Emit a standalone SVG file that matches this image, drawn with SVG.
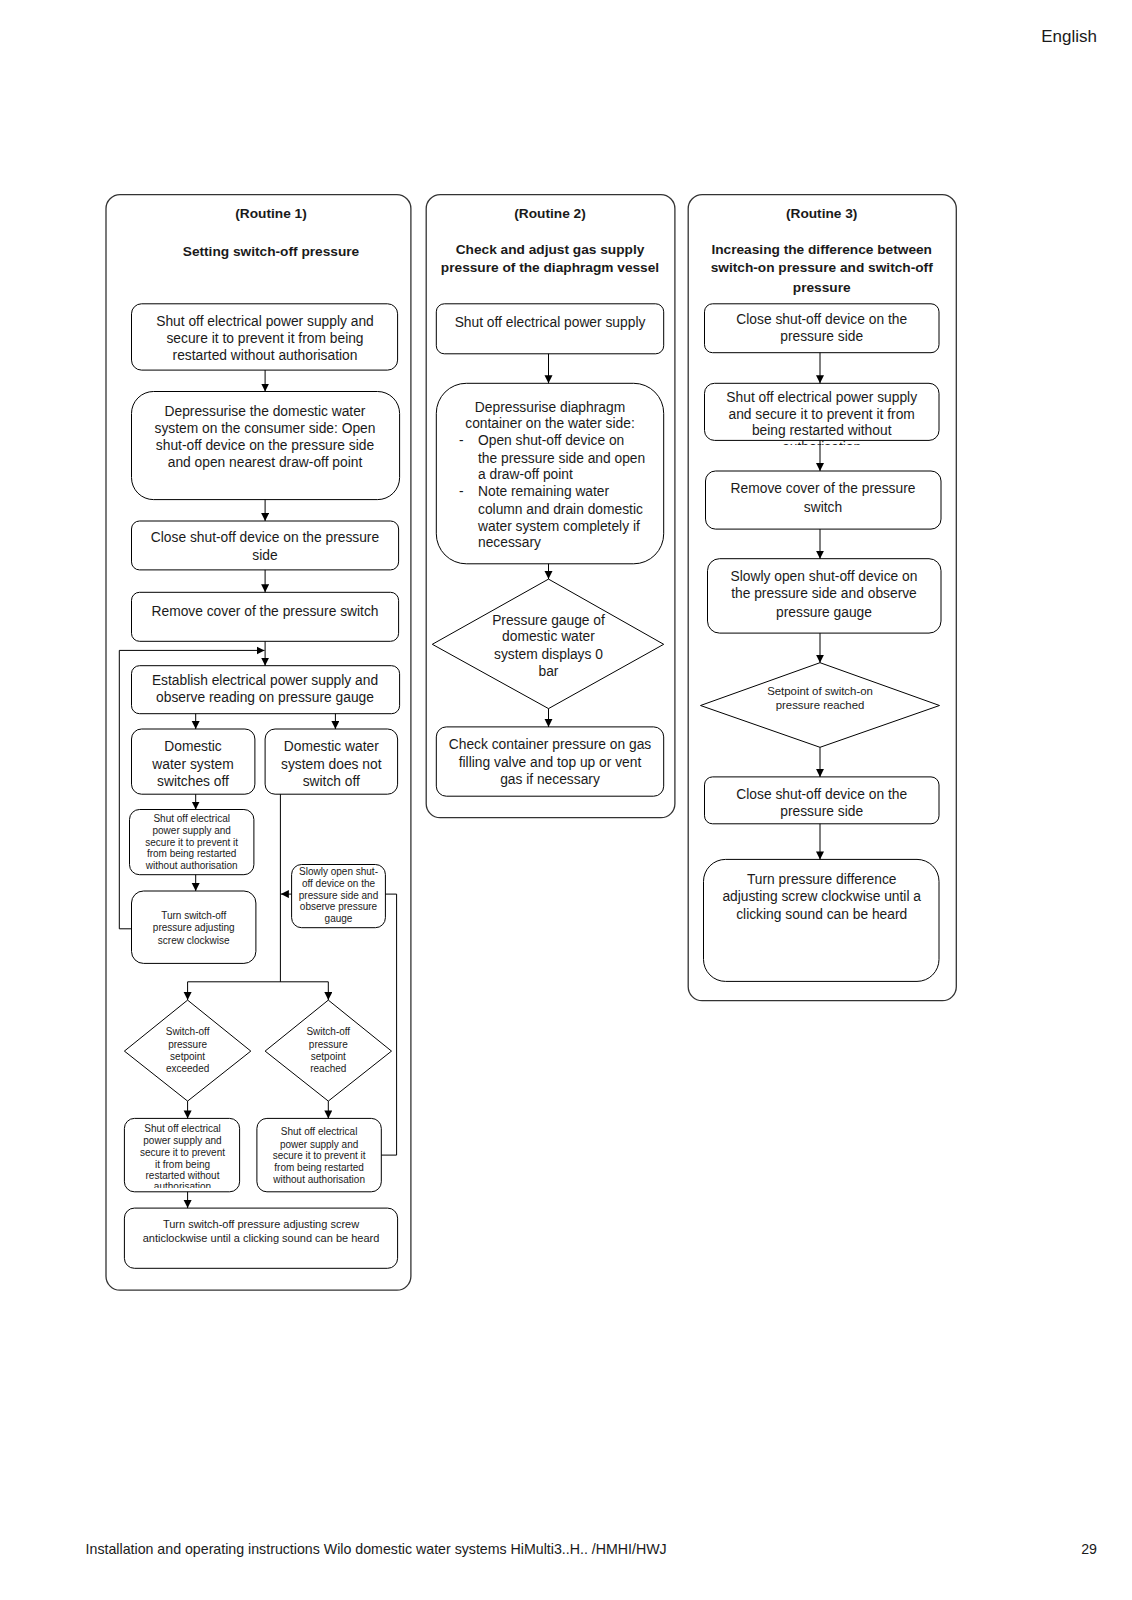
<svg xmlns="http://www.w3.org/2000/svg" width="1132" height="1600" viewBox="0 0 1132 1600">
<style>
text{font-family:"Liberation Sans",Arial,sans-serif;fill:#1a1a1a}
.t{font-size:13.8px;text-anchor:middle}
.tl{font-size:13.8px}
.h{font-size:13.7px;font-weight:bold;text-anchor:middle}
.s{font-size:10px;text-anchor:middle}
.m{font-size:11px;text-anchor:middle}
.box{fill:#fff;stroke:#000;stroke-width:1}
.outer{fill:none;stroke:#333;stroke-width:1.3}
.ln{fill:none;stroke:#000;stroke-width:1}
.ar{fill:none;stroke:#000;stroke-width:1;marker-end:url(#ah)}
</style>
<defs>
<marker id="ah" markerUnits="userSpaceOnUse" markerWidth="9" markerHeight="9" refX="8" refY="4" orient="auto">
<path d="M0,0 L8,4 L0,8 z" fill="#000"/>
</marker>
<clipPath id="c11"><rect x="124" y="1118" width="116" height="70"/></clipPath>
<clipPath id="c32"><rect x="704" y="383" width="236" height="62"/></clipPath>
</defs>
<rect width="1132" height="1600" fill="#fff"/>
<text x="1097" y="42" style="font-size:17px;text-anchor:end">English</text>
<text x="85.6" y="1554" style="font-size:14.2px">Installation and operating instructions Wilo domestic water systems HiMulti3..H.. /HMHI/HWJ</text>
<text x="1097" y="1554" style="font-size:14.2px;text-anchor:end">29</text>

<g id="routine1">
<rect class="outer" x="106" y="194.7" width="304.9" height="1095.5" rx="14"/>
<text class="h" x="271" y="218">(Routine 1)</text>
<text class="h" x="271" y="256">Setting switch-off pressure</text>
</g>
<g id="r1-n1"><rect class="box" x="131.5" y="303.8" width="266.1" height="66.3" rx="10"/>
<text class="t" x="265" y="326">Shut off electrical power supply and</text>
<text class="t" x="265" y="343">secure it to prevent it from being</text>
<text class="t" x="265" y="360">restarted without authorisation</text></g>
<g id="r1-n2"><rect class="box" x="131.5" y="391.5" width="268.1" height="108.1" rx="22"/>
<text class="t" x="265" y="416">Depressurise the domestic water</text>
<text class="t" x="265" y="433">system on the consumer side: Open</text>
<text class="t" x="265" y="450">shut-off device on the pressure side</text>
<text class="t" x="265" y="467">and open nearest draw-off point</text></g>
<g id="r1-n3"><rect class="box" x="131.5" y="521" width="267.1" height="48.9" rx="8"/>
<text class="t" x="265" y="542">Close shut-off device on the pressure</text>
<text class="t" x="265" y="559.5">side</text></g>
<g id="r1-n4"><rect class="box" x="131.5" y="592.3" width="267.1" height="49" rx="8"/>
<text class="t" x="265" y="615.7">Remove cover of the pressure switch</text></g>
<g id="r1-n5"><rect class="box" x="131.5" y="665.7" width="268.1" height="48" rx="8"/>
<text class="t" x="265" y="685">Establish electrical power supply and</text>
<text class="t" x="265" y="702">observe reading on pressure gauge</text></g>
<g id="r1-n6"><rect class="box" x="131.5" y="729" width="123.4" height="65.2" rx="10"/>
<text class="t" x="193" y="751">Domestic</text>
<text class="t" x="193" y="768.5">water system</text>
<text class="t" x="193" y="786">switches off</text></g>
<g id="r1-n7"><rect class="box" x="265.1" y="729" width="132.5" height="65.2" rx="10"/>
<text class="t" x="331.3" y="751">Domestic water</text>
<text class="t" x="331.3" y="768.5">system does not</text>
<text class="t" x="331.3" y="786">switch off</text></g>
<g id="r1-n8"><rect class="box" x="129.5" y="809.5" width="124.4" height="65.2" rx="10"/>
<text class="s" x="191.7" y="822.3">Shut off electrical</text>
<text class="s" x="191.7" y="834">power supply and</text>
<text class="s" x="191.7" y="845.7">secure it to prevent it</text>
<text class="s" x="191.7" y="857.4">from being restarted</text>
<text class="s" x="191.7" y="869.1">without authorisation</text></g>
<g id="r1-n9"><rect class="box" x="131.5" y="891" width="124.4" height="72.4" rx="12"/>
<text class="s" x="193.7" y="919">Turn switch-off</text>
<text class="s" x="193.7" y="931.3">pressure adjusting</text>
<text class="s" x="193.7" y="943.6">screw clockwise</text></g>
<g id="r1-n10"><rect class="box" x="291.6" y="864.5" width="93.8" height="63.2" rx="10"/>
<text class="s" x="338.5" y="875.3">Slowly open shut-</text>
<text class="s" x="338.5" y="887">off device on the</text>
<text class="s" x="338.5" y="898.7">pressure side and</text>
<text class="s" x="338.5" y="910.4">observe pressure</text>
<text class="s" x="338.5" y="922.1">gauge</text></g>
<g id="r1-d1"><polygon class="box" points="187.6,1000.1 250.8,1051.1 187.6,1101.1 124.4,1051.1"/>
<text class="s" x="187.6" y="1035.3">Switch-off</text>
<text class="s" x="187.6" y="1047.5">pressure</text>
<text class="s" x="187.6" y="1059.7">setpoint</text>
<text class="s" x="187.6" y="1071.9">exceeded</text></g>
<g id="r1-d2"><polygon class="box" points="328.3,1000.1 391.5,1051.1 328.3,1101.1 265.1,1051.1"/>
<text class="s" x="328.3" y="1035.3">Switch-off</text>
<text class="s" x="328.3" y="1047.5">pressure</text>
<text class="s" x="328.3" y="1059.7">setpoint</text>
<text class="s" x="328.3" y="1071.9">reached</text></g>
<g id="r1-n11"><rect class="box" x="124.4" y="1118.4" width="115.2" height="73.4" rx="10"/>
<g clip-path="url(#c11)">
<text class="s" x="182.5" y="1132.2">Shut off electrical</text>
<text class="s" x="182.5" y="1144.4">power supply and</text>
<text class="s" x="182.5" y="1155.6">secure it to prevent</text>
<text class="s" x="182.5" y="1167.9">it from being</text>
<text class="s" x="182.5" y="1179.1">restarted without</text>
<text class="s" x="182.5" y="1190.3">authorisation</text></g></g>
<g id="r1-n12"><rect class="box" x="256.9" y="1118.4" width="124.4" height="73.4" rx="10"/>
<text class="s" x="319.1" y="1135.2">Shut off electrical</text>
<text class="s" x="319.1" y="1147.5">power supply and</text>
<text class="s" x="319.1" y="1158.7">secure it to prevent it</text>
<text class="s" x="319.1" y="1170.9">from being restarted</text>
<text class="s" x="319.1" y="1183.2">without authorisation</text></g>
<g id="r1-n13"><rect class="box" x="124.4" y="1208.1" width="273.2" height="60.2" rx="10"/>
<text class="m" x="261" y="1228.4">Turn switch-off pressure adjusting screw</text>
<text class="m" x="261" y="1241.7">anticlockwise until a clicking sound can be heard</text></g>

<g id="routine2">
<rect class="outer" x="426.2" y="194.7" width="248.7" height="623" rx="14"/>
<text class="h" x="550" y="218">(Routine 2)</text>
<text class="h" x="550" y="253.8">Check and adjust gas supply</text>
<text class="h" x="550" y="272">pressure of the diaphragm vessel</text>
</g>
<g id="r2-n1"><rect class="box" x="436.3" y="303.8" width="227.4" height="50" rx="8"/>
<text class="t" x="550" y="327">Shut off electrical power supply</text></g>
<g id="r2-n2"><rect class="box" x="436.3" y="383.3" width="227.4" height="180.5" rx="30"/>
<text class="t" x="550" y="411.8">Depressurise diaphragm</text>
<text class="t" x="550" y="428.1">container on the water side:</text>
<text class="tl" x="459" y="445.4">-</text>
<text class="tl" x="478" y="445.4">Open shut-off device on</text>
<text class="tl" x="478" y="462.8">the pressure side and open</text>
<text class="tl" x="478" y="479.1">a draw-off point</text>
<text class="tl" x="459" y="496.4">-</text>
<text class="tl" x="478" y="496.4">Note remaining water</text>
<text class="tl" x="478" y="513.7">column and drain domestic</text>
<text class="tl" x="478" y="531.1">water system completely if</text>
<text class="tl" x="478" y="547.4">necessary</text></g>
<g id="r2-d1"><polygon class="box" points="548.5,579.1 663.7,644.3 548.5,708.6 432.3,644.3"/>
<text class="t" x="548.5" y="624.9">Pressure gauge of</text>
<text class="t" x="548.5" y="641.2">domestic water</text>
<text class="t" x="548.5" y="658.5">system displays 0</text>
<text class="t" x="548.5" y="675.8">bar</text></g>
<g id="r2-n3"><rect class="box" x="436.3" y="726.9" width="227.4" height="69.3" rx="10"/>
<text class="t" x="550" y="749.2">Check container pressure on gas</text>
<text class="t" x="550" y="766.6">filling valve and top up or vent</text>
<text class="t" x="550" y="783.9">gas if necessary</text></g>

<g id="routine3">
<rect class="outer" x="688.2" y="194.7" width="268.1" height="806" rx="14"/>
<text class="h" x="821.7" y="218">(Routine 3)</text>
<text class="h" x="821.7" y="253.8">Increasing the difference between</text>
<text class="h" x="821.7" y="272.1">switch-on pressure and switch-off</text>
<text class="h" x="821.7" y="291.5">pressure</text>
</g>
<g id="r3-n1"><rect class="box" x="704.5" y="303.8" width="234.5" height="48.9" rx="8"/>
<text class="t" x="821.7" y="324.1">Close shut-off device on the</text>
<text class="t" x="821.7" y="341.4">pressure side</text></g>
<g id="r3-n2"><rect class="box" x="704.5" y="383.3" width="234.5" height="57.1" rx="10"/>
<g clip-path="url(#c32)">
<text class="t" x="821.7" y="401.6">Shut off electrical power supply</text>
<text class="t" x="821.7" y="418.9">and secure it to prevent it from</text>
<text class="t" x="821.7" y="435.2">being restarted without</text>
<text class="t" x="821.7" y="452">authorisation</text></g></g>
<g id="r3-n3"><rect class="box" x="705.5" y="471" width="235.5" height="58.1" rx="10"/>
<text class="t" x="823" y="493.3">Remove cover of the pressure</text>
<text class="t" x="823" y="511.7">switch</text></g>
<g id="r3-n4"><rect class="box" x="707.5" y="558.7" width="233.5" height="74.4" rx="12"/>
<text class="t" x="824" y="581">Slowly open shut-off device on</text>
<text class="t" x="824" y="598.3">the pressure side and observe</text>
<text class="t" x="824" y="616.7">pressure gauge</text></g>
<g id="r3-d1"><polygon class="box" points="820,662.7 939.5,705.5 820,747.3 700.5,705.5"/>
<text class="m" x="820" y="695" style="font-size:11.4px">Setpoint of switch-on</text>
<text class="m" x="820" y="709.3" style="font-size:11.4px">pressure reached</text></g>
<g id="r3-n5"><rect class="box" x="704.5" y="776.9" width="234.5" height="46.9" rx="8"/>
<text class="t" x="821.7" y="799.2">Close shut-off device on the</text>
<text class="t" x="821.7" y="815.5">pressure side</text></g>
<g id="r3-n6"><rect class="box" x="703.5" y="859.4" width="235.5" height="122" rx="22"/>
<text class="t" x="821.7" y="883.8">Turn pressure difference</text>
<text class="t" x="821.7" y="901.1">adjusting screw clockwise until a</text>
<text class="t" x="821.7" y="918.5">clicking sound can be heard</text></g>

<g id="connectors">
<line class="ar" x1="265.1" y1="370.1" x2="265.1" y2="391.5"/>
<line class="ar" x1="265.1" y1="499.6" x2="265.1" y2="521"/>
<line class="ar" x1="265.1" y1="569.9" x2="265.1" y2="592.3"/>
<line class="ar" x1="265.1" y1="641.3" x2="265.1" y2="665.7"/>
<polyline class="ar" points="131.5,928.8 119.3,928.8 119.3,650.4 264.5,650.4"/>
<line class="ar" x1="195.7" y1="713.7" x2="195.7" y2="729"/>
<line class="ar" x1="335.4" y1="713.7" x2="335.4" y2="729"/>
<line class="ar" x1="195.7" y1="794.2" x2="195.7" y2="809.5"/>
<line class="ar" x1="195.7" y1="874.7" x2="195.7" y2="891"/>
<polyline class="ln" points="280.4,794.2 280.4,981.8"/>
<polyline class="ln" points="187.6,981.8 328.3,981.8"/>
<line class="ar" x1="187.6" y1="981.8" x2="187.6" y2="1000.1"/>
<line class="ar" x1="328.3" y1="981.8" x2="328.3" y2="1000.1"/>
<line class="ar" x1="291.6" y1="894.1" x2="280.9" y2="894.1"/>
<polyline class="ln" points="381.3,1155.1 396.6,1155.1 396.6,894.1 385.4,894.1"/>
<line class="ar" x1="187.6" y1="1101.1" x2="187.6" y2="1118.4"/>
<line class="ar" x1="328.3" y1="1101.1" x2="328.3" y2="1118.4"/>
<line class="ar" x1="187.6" y1="1191.8" x2="187.6" y2="1208.1"/>
<line class="ar" x1="548.5" y1="353.8" x2="548.5" y2="383.3"/>
<line class="ar" x1="548.5" y1="563.8" x2="548.5" y2="579.1"/>
<line class="ar" x1="548.5" y1="708.6" x2="548.5" y2="726.9"/>
<line class="ar" x1="820" y1="352.7" x2="820" y2="383.3"/>
<line class="ar" x1="820" y1="440.4" x2="820" y2="471"/>
<line class="ar" x1="820" y1="529.1" x2="820" y2="558.7"/>
<line class="ar" x1="820" y1="633.1" x2="820" y2="662.7"/>
<line class="ar" x1="820" y1="747.3" x2="820" y2="776.9"/>
<line class="ar" x1="820" y1="823.8" x2="820" y2="859.4"/>
</g>
</svg>
